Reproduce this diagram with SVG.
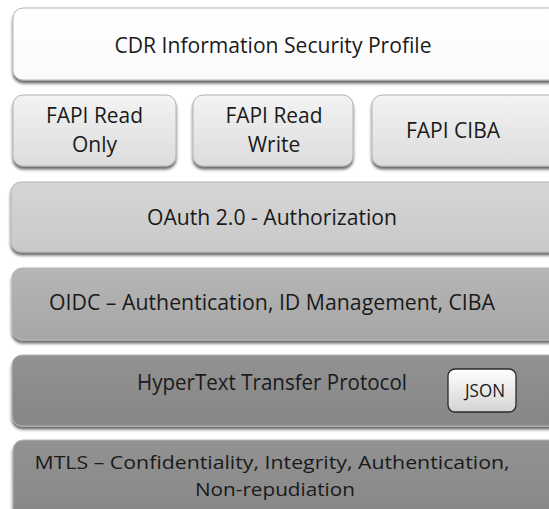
<svg xmlns="http://www.w3.org/2000/svg" width="549" height="509" viewBox="0 0 549 509">
<style>
text{font-family:"Open Sans","Liberation Sans",sans-serif;fill:#1a1a1a;text-anchor:middle}
.l{font-size:21px}
.m{font-size:19px}
.f{font-size:21px}
.j{font-size:18px}
.box{stroke:#b4b4b4;stroke-width:1;filter:url(#sh)}
</style>
<defs>
<filter id="sh" x="-5%" y="-10%" width="110%" height="130%">
<feGaussianBlur in="SourceAlpha" stdDeviation="1.4"/>
<feOffset dx="0" dy="2.5" result="b"/>
<feComponentTransfer><feFuncA type="linear" slope="0.6"/></feComponentTransfer>
<feMerge><feMergeNode/><feMergeNode in="SourceGraphic"/></feMerge>
</filter>
<linearGradient id="gW" x1="0" y1="0" x2="0" y2="1"><stop offset="0" stop-color="#ffffff"/><stop offset="1" stop-color="#fbfbfb"/></linearGradient>
<linearGradient id="gF" x1="0" y1="0" x2="0" y2="1"><stop offset="0" stop-color="#f3f3f3"/><stop offset="1" stop-color="#dcdcdc"/></linearGradient>
<linearGradient id="gO" x1="0" y1="0" x2="0" y2="1"><stop offset="0" stop-color="#d6d6d6"/><stop offset="1" stop-color="#c9c9c9"/></linearGradient>
<linearGradient id="gI" x1="0" y1="0" x2="0" y2="1"><stop offset="0" stop-color="#b6b6b6"/><stop offset="1" stop-color="#a6a6a6"/></linearGradient>
<linearGradient id="gH" x1="0" y1="0" x2="0" y2="1"><stop offset="0" stop-color="#929292"/><stop offset="1" stop-color="#868686"/></linearGradient>
<linearGradient id="gJ" x1="0" y1="0" x2="0" y2="1"><stop offset="0" stop-color="#ffffff"/><stop offset="1" stop-color="#d4d4d4"/></linearGradient>
</defs>
<rect width="549" height="509" fill="#ffffff"/>
<g id="cdr">
<rect class="box" x="13" y="8" width="570" height="72" rx="10" fill="url(#gW)"/>
<text class="l" x="273" y="53" textLength="317" lengthAdjust="spacingAndGlyphs">CDR Information Security Profile</text>
</g>
<g id="fapi-ro">
<rect class="box" x="13" y="95" width="163" height="71" rx="10" fill="url(#gF)"/>
<text class="f" x="94.5" y="123" textLength="97" lengthAdjust="spacingAndGlyphs">FAPI Read</text>
<text class="f" x="94.5" y="152">Only</text>
</g>
<g id="fapi-rw">
<rect class="box" x="193" y="95" width="160" height="71" rx="10" fill="url(#gF)"/>
<text class="f" x="274" y="123" textLength="97" lengthAdjust="spacingAndGlyphs">FAPI Read</text>
<text class="f" x="274" y="152">Write</text>
</g>
<g id="fapi-ciba">
<rect class="box" x="372" y="95" width="200" height="71" rx="10" fill="url(#gF)"/>
<text class="f" x="453" y="138" textLength="94" lengthAdjust="spacingAndGlyphs">FAPI CIBA</text>
</g>
<g id="oauth">
<rect class="box" x="11" y="182" width="570" height="70" rx="10" fill="url(#gO)"/>
<text class="l" x="272" y="225" textLength="250" lengthAdjust="spacingAndGlyphs">OAuth 2.0 - Authorization</text>
</g>
<g id="oidc">
<rect class="box" x="12" y="268" width="570" height="72" rx="10" fill="url(#gI)"/>
<text class="l" x="272" y="310" textLength="446" lengthAdjust="spacingAndGlyphs">OIDC – Authentication, ID Management, CIBA</text>
</g>
<g id="http">
<rect class="box" x="12" y="355" width="570" height="71" rx="10" fill="url(#gH)"/>
<text class="l" x="272" y="390" textLength="270" lengthAdjust="spacingAndGlyphs">HyperText Transfer Protocol</text>
</g>
<g id="json">
<rect x="448" y="369" width="68" height="43" rx="7" fill="url(#gJ)" stroke="#2a2a2a" stroke-width="1.3"/>
<text class="j" x="485" y="397" textLength="40" lengthAdjust="spacingAndGlyphs">JSON</text>
</g>
<g id="mtls">
<rect class="box" x="13" y="440" width="570" height="90" rx="10" fill="url(#gH)"/>
<text class="m" x="272" y="469" textLength="475" lengthAdjust="spacingAndGlyphs">MTLS – Confidentiality, Integrity, Authentication,</text>
<text class="m" x="275" y="496" textLength="160" lengthAdjust="spacingAndGlyphs">Non-repudiation</text>
</g>
</svg>
